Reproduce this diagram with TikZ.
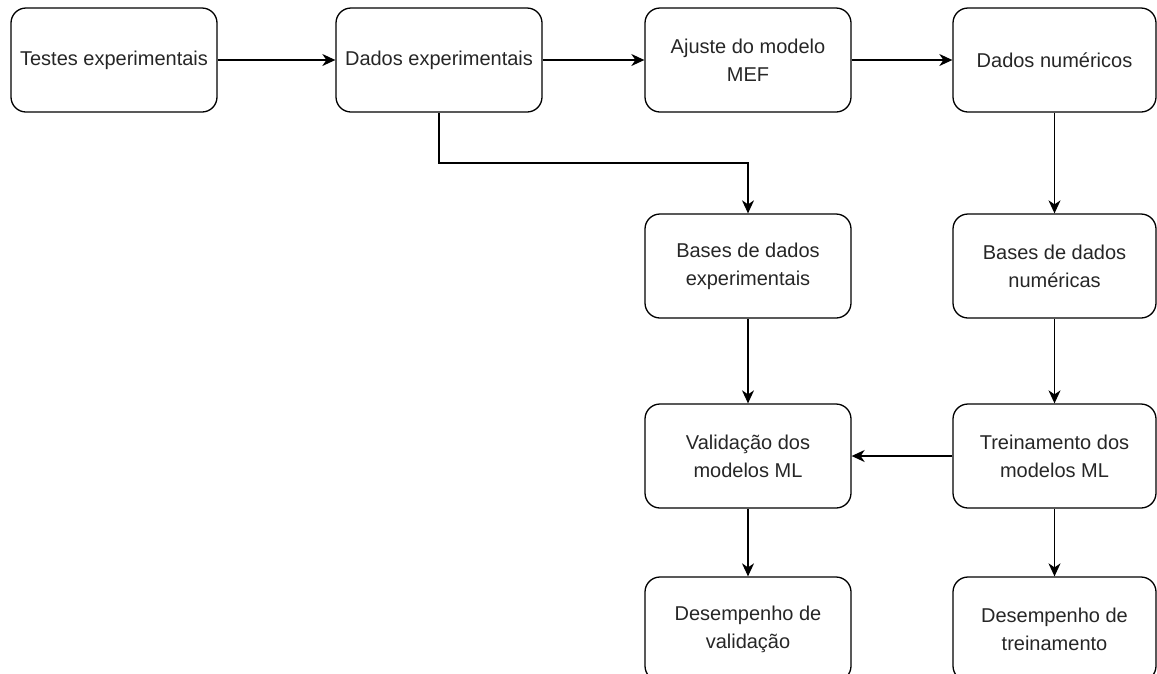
\documentclass[tikz,border=0pt]{standalone}
\usepackage{fontspec}
\setmainfont{Liberation Sans}
\usetikzlibrary{arrows.meta}

\begin{document}
\begin{tikzpicture}[
    x=1pt, y=-1pt,
    box/.style={rectangle, draw, line width=1.3pt, rounded corners=15pt, minimum width=206pt, minimum height=104pt, align=center, text=black!85, font=\fontsize{20}{28}\selectfont},
    lastbox/.style={box, minimum width=203pt},
    arrow/.style={-{Stealth[length=13pt, width=12pt, inset=4pt]}, line width=1.3pt}
]
\useasboundingbox (0,0) rectangle (1157,673);

% Top row
\node[box] (testes) at (114,60) {Testes experimentais};
\node[box] (dadosexp) at (439,60) {Dados experimentais};
\node[box] (ajuste) at (748,60) {Ajuste do modelo\\MEF};
\node[lastbox] (dadosnum) at (1054.5,60) {Dados numéricos};

% Data bases
\node[box] (basesexp) at (748,266) {Bases de dados\\experimentais};
\node[lastbox] (basesnum) at (1054.5,266) {Bases de dados\\numéricas};

% Models
\node[box] (validacao) at (748,456) {Validação dos\\modelos ML};
\node[lastbox] (treino) at (1054.5,456) {Treinamento dos\\modelos ML};

% Performance
\node[box] (desval) at (748,629) {Desempenho de\\validação};
\node[lastbox] (destreino) at (1054.5,629) {Desempenho de\\treinamento};

\coordinate (bend) at (748,163);

% Connections
\draw[arrow] (testes) -- (dadosexp);
\draw[arrow] (dadosexp) -- (ajuste);
\draw[arrow] (ajuste) -- (dadosnum);
\draw[arrow] (dadosexp.south) |- (bend) -- (basesexp.north);
\draw[arrow] (dadosnum) -- (basesnum);
\draw[arrow] (basesnum) -- (treino);
\draw[arrow] (basesexp) -- (validacao);
\draw[arrow] (treino) -- (validacao);
\draw[arrow] (validacao) -- (desval);
\draw[arrow] (treino) -- (destreino);

\end{tikzpicture}
\end{document}
